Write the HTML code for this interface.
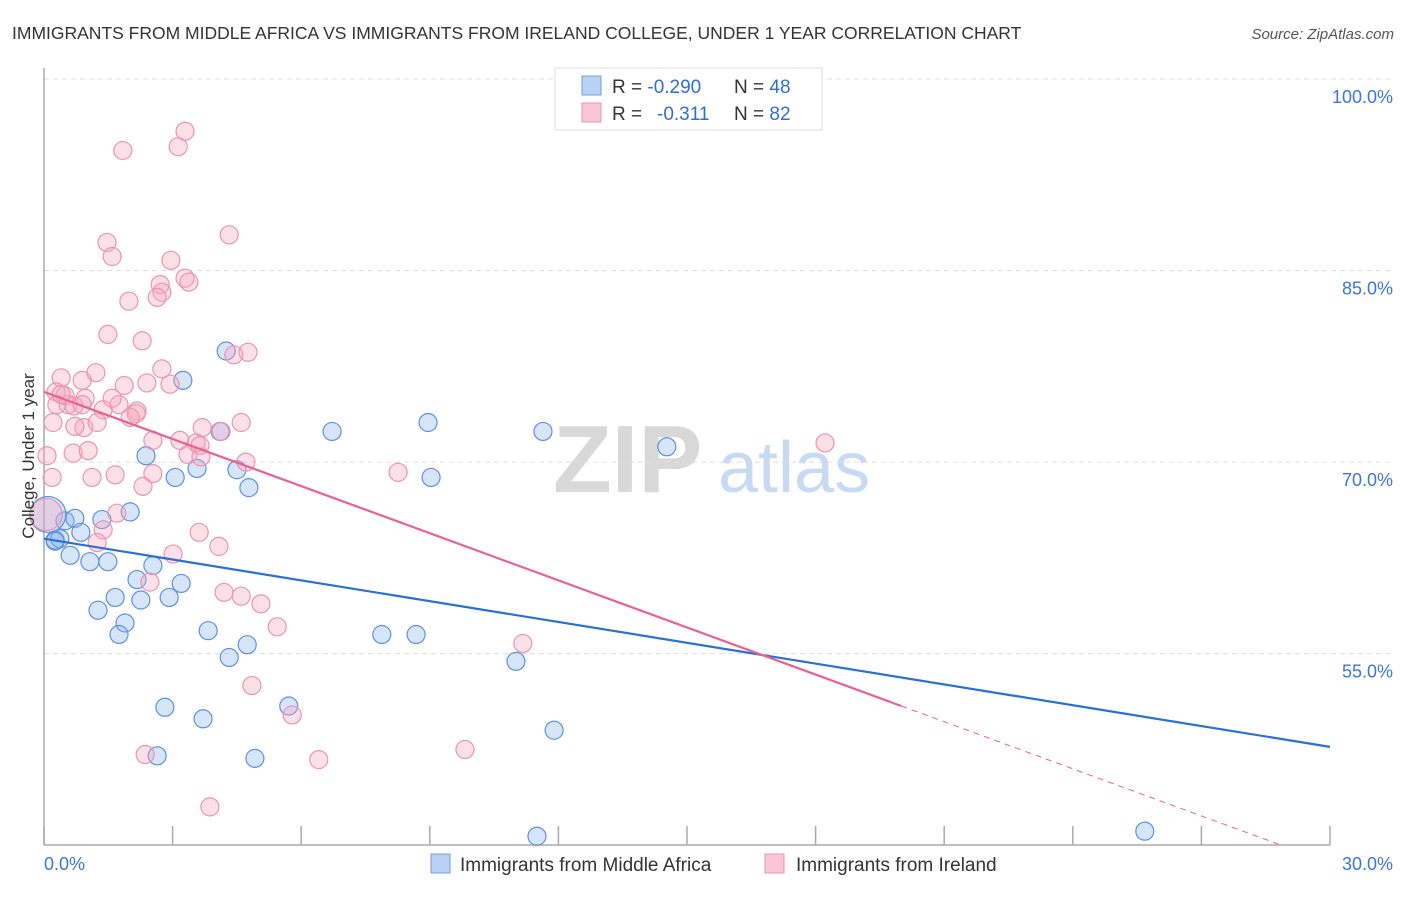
<!DOCTYPE html>
<html><head><meta charset="utf-8"><style>
body{margin:0;background:#fff;font-family:"Liberation Sans",sans-serif;}
svg text{font-family:"Liberation Sans",sans-serif;}
</style></head><body>
<svg id="chart" width="1406" height="892" viewBox="0 0 1406 892">
<text x="12" y="39" font-size="17.5" fill="#333">IMMIGRANTS FROM MIDDLE AFRICA VS IMMIGRANTS FROM IRELAND COLLEGE, UNDER 1 YEAR CORRELATION CHART</text>
<text x="1394" y="39" font-size="15" fill="#555" font-style="italic" text-anchor="end">Source: ZipAtlas.com</text>
<g>
<text x="553" y="492" font-size="96" fill="#d8d8d8" font-family="Liberation Serif" font-weight="bold">ZIP</text>
<text x="718" y="492" font-size="72" fill="#c8daf2">atlas</text>
</g>
<g id="grid"></g>
<g id="axes"></g>
<g id="marks"></g>
<g id="trends"></g>
<text transform="translate(34,456) rotate(-90)" font-size="17" fill="#333" text-anchor="middle">College, Under 1 year</text>
<g>
<rect x="555" y="68" width="267" height="62" fill="#fff" stroke="#ddd"/>
<rect x="582" y="76" width="19" height="19" fill="#b9d1f3" stroke="#6f9fe0"/>
<rect x="582" y="103" width="19" height="19" fill="#f8c6d6" stroke="#e895b1"/>
<text x="612" y="93" font-size="19" fill="#333">R = <tspan fill="#2f6fd0">-0.290</tspan><tspan x="734">N = </tspan><tspan fill="#2f6fd0">48</tspan></text>
<text x="612" y="120" font-size="19" fill="#333">R = <tspan x="657" fill="#2f6fd0">-0.311</tspan><tspan x="734">N = </tspan><tspan fill="#2f6fd0">82</tspan></text>
</g>
<g>
<rect x="431" y="854" width="19" height="19" fill="#b9d1f3" stroke="#6f9fe0"/>
<text x="460" y="871" font-size="19" fill="#333">Immigrants from Middle Africa</text>
<rect x="765" y="854" width="19" height="19" fill="#f8c6d6" stroke="#e895b1"/>
<text x="796" y="871" font-size="19" fill="#333">Immigrants from Ireland</text>
</g>
</svg>
<script>
const blueX=[4.25,3.24,2.38,3.06,4.11,3.57,4.50,4.78,6.72,8.96,9.03,11.64,14.53,2.01,1.35,0.49,0.72,0.86,0.26,0.09,0.61,1.07,1.49,2.17,1.66,2.26,2.92,3.20,2.54,1.26,1.89,1.75,3.83,4.74,4.32,7.88,8.68,11.01,2.82,3.71,5.71,11.90,2.64,4.92,11.50,25.68,0.37,0.26];
const blueY=[78.7,76.4,70.5,68.8,72.4,69.5,69.4,68.0,72.4,73.1,68.8,72.4,71.2,66.1,65.5,65.4,65.6,64.5,63.9,65.9,62.7,62.2,62.2,60.8,59.4,59.2,59.4,60.5,61.9,58.4,57.4,56.5,56.8,55.7,54.7,56.5,56.5,54.4,50.8,49.9,50.9,49.0,47.0,46.8,40.7,41.1,64.0,63.8];
const pinkX=[3.29,3.13,1.84,4.32,1.47,1.59,2.96,3.29,2.71,2.75,3.38,2.64,1.98,1.49,2.29,4.43,4.76,0.40,1.21,2.75,1.87,2.40,2.94,0.28,0.49,0.96,0.56,0.70,0.30,0.89,2.17,1.75,2.01,1.38,0.93,1.24,0.21,0.72,2.54,3.17,3.55,3.69,4.13,4.60,3.36,3.66,4.71,0.68,1.03,0.07,0.19,1.66,2.54,2.31,1.12,1.70,1.38,1.24,3.01,3.62,4.08,4.20,4.60,5.06,5.44,2.47,4.85,5.79,6.41,3.87,2.36,9.82,11.17,8.26,18.22,0.40,2.15,1.59,3.64,0.89,0.05];
const pinkY=[95.9,94.7,94.4,87.8,87.2,86.1,85.8,84.4,83.9,83.3,84.1,82.9,82.6,80.0,79.5,78.4,78.6,76.6,77.0,77.3,76.0,76.2,76.1,75.5,75.2,75.0,74.5,74.4,74.5,74.5,74.0,74.5,73.5,74.1,72.7,73.1,73.1,72.8,71.7,71.7,71.5,72.7,72.4,73.1,70.6,70.4,70.0,70.7,70.9,70.5,68.8,69.0,69.1,68.1,68.8,66.0,64.7,63.7,62.8,64.5,63.4,59.8,59.5,58.9,57.1,60.6,52.5,50.2,46.7,43.0,47.1,47.5,55.8,69.2,71.5,75.3,73.8,75.0,71.3,76.4,65.9];
const xTickValues=[0,3,6,9,12,15,18,21,24,27,30];
const yGridValues=[100,85,70,55];
const yTickLabels=["100.0%","85.0%","70.0%","55.0%"];
const xEndLabels=["0.0%","30.0%"];
const blueTrend=[64.0,47.7]; // y at x=0 and x=30
const pinkTrend=[75.5,50.9,20]; // y at 0, y at solidEnd, solidEnd x

const X0=44,X1=1330,YB=845;
const sx=v=>X0+(v/30)*(X1-X0);
const sy=v=>79+(100-v)*12.77;
const NS="http://www.w3.org/2000/svg";
function mk(tag,attrs,parent){const e=document.createElementNS(NS,tag);for(const k in attrs)e.setAttribute(k,attrs[k]);parent.appendChild(e);return e;}
const grid=document.getElementById('grid'),axes=document.getElementById('axes'),marks=document.getElementById('marks'),trends=document.getElementById('trends');
yGridValues.forEach((v,i)=>{
 const l=mk('line',{x1:X0,x2:1394,y1:sy(v),y2:sy(v),stroke:'#ddd','stroke-dasharray':'5,4'},grid);
 
 
 const t=mk('text',{x:1393,y:sy(v)+24,'font-size':18,fill:'#3b76d6','text-anchor':'end'},axes);
 t.textContent=yTickLabels[i];
 
 
});
const ya=mk('line',{x1:X0,x2:X0,y1:68,y2:YB,stroke:'#aaa','stroke-width':1.5},axes);


const xa=mk('line',{x1:X0,x2:X1,y1:YB,y2:YB,stroke:'#aaa','stroke-width':1.5},axes);


xTickValues.forEach(v=>{
 const t=mk('line',{x1:sx(v),x2:sx(v),y1:826,y2:YB,stroke:'#aaa','stroke-width':1.5},axes);
 
 
});
const xl0=mk('text',{x:44,y:870,'font-size':18,fill:'#3b76d6'},axes);xl0.textContent=xEndLabels[0];


const xl1=mk('text',{x:1393,y:870,'font-size':18,fill:'#3b76d6','text-anchor':'end'},axes);xl1.textContent=xEndLabels[1];


blueX.forEach((v,i)=>{
 const c=mk('circle',{cx:sx(v),cy:sy(blueY[i]),r:(i===19?18:9),fill:'rgba(140,180,235,0.35)',stroke:'#5d90dd','stroke-width':1.2},marks);
 
 
});
pinkX.forEach((v,i)=>{
 const c=mk('circle',{cx:sx(v),cy:sy(pinkY[i]),r:(i===pinkX.length-1?16:9),fill:'rgba(245,165,190,0.35)',stroke:'#e995b1','stroke-width':1.2},marks);
 
 
});
const bt=mk('line',{x1:sx(0),y1:sy(blueTrend[0]),x2:sx(30),y2:sy(blueTrend[1]),stroke:'#2a6fd6','stroke-width':2.2},trends);


const pt=mk('line',{x1:sx(0),y1:sy(pinkTrend[0]),x2:sx(pinkTrend[2]),y2:sy(pinkTrend[1]),stroke:'#e8628f','stroke-width':2.2},trends);


const slope=(pinkTrend[1]-pinkTrend[0])/pinkTrend[2];
let xe=30,ye=pinkTrend[0]+slope*30;
const yMin=100-(YB-79)/12.77;
if(ye<yMin){xe=(yMin-pinkTrend[0])/slope;ye=yMin;}
const pd=mk('line',{x1:sx(pinkTrend[2]),y1:sy(pinkTrend[1]),x2:sx(xe),y2:sy(ye),stroke:'#e8628f','stroke-width':1,'stroke-dasharray':'6,5'},trends);


</script>
</body></html>
